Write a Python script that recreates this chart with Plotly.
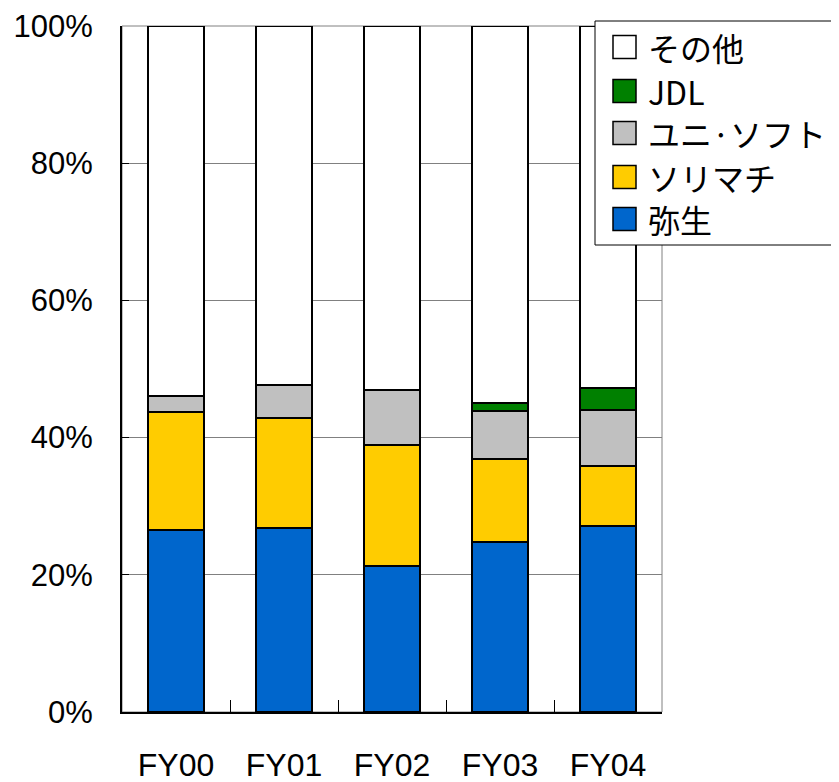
import plotly.graph_objects as go

categories = ["FY00", "FY01", "FY02", "FY03", "FY04"]
series_names = ["弥生", "ソリマチ", "ユニ·ソフト", "JDL", "その他"]
yayoi = [26.5, 26.8, 21.3, 24.8, 27.1]
sorimachi = [17.2, 16.1, 17.6, 12.1, 8.8]
unisoft = [2.4, 4.8, 8.0, 7.0, 8.1]
jdl = [0.0, 0.0, 0.0, 1.2, 3.3]
others = [53.9, 52.3, 53.1, 54.9, 52.7]
colors = ["#0066CC", "#FFCC00", "#C0C0C0", "#008000", "#FFFFFF"]
y_ticks = [0, 20, 40, 60, 80, 100]
y_tick_labels = ["0%", "20%", "40%", "60%", "80%", "100%"]

series_values = [yayoi, sorimachi, unisoft, jdl, others]

OFF = 8  # page body margin
W, H = 839 - OFF, 782 - OFF
# plot area in window pixels
L, R, T, B = 122, 662, 26, 712

fig = go.Figure()
for name, vals, col in zip(series_names, series_values, colors):
    fig.add_trace(go.Bar(
        x=categories, y=vals, name=name, width=0.51,
        marker=dict(color=col, line=dict(color="black", width=2)),
        showlegend=False,
    ))

def px_x(p):
    return (p - L) / (R - L)

def px_y(p):
    return (B - p) / (B - T)

shapes = [
    dict(type="rect", xref="paper", yref="paper", x0=0, x1=1, y0=0, y1=1,
         line=dict(color="#808080", width=1), layer="below"),
]
annotations = []
# custom legend (top to bottom: reversed series order)
shapes.append(dict(type="rect", xref="paper", yref="paper",
                   x0=px_x(595), x1=px_x(837), y0=px_y(245), y1=px_y(21),
                   line=dict(color="black", width=1), fillcolor="white", layer="above"))
centers = [47, 91, 133, 177, 219]
for i, idx in enumerate(range(len(series_names) - 1, -1, -1)):
    cy = centers[i]
    shapes.append(dict(type="rect", xref="paper", yref="paper",
                       x0=px_x(613), x1=px_x(636), y0=px_y(cy + 11.5), y1=px_y(cy - 11.5),
                       line=dict(color="black", width=1.5), fillcolor=colors[idx], layer="above"))
    annotations.append(dict(xref="paper", yref="paper", x=px_x(647), y=px_y(cy),
                            text=series_names[idx], showarrow=False, xanchor="left",
                            yanchor="middle", borderpad=0,
                            font=dict(family="Noto Sans CJK JP", size=32, color="black")))

fig.update_layout(
    width=W, height=H,
    margin=dict(l=L - OFF, r=W - (R - OFF), t=T - OFF, b=H - (B - OFF), pad=0, autoexpand=False),
    plot_bgcolor="white", paper_bgcolor="white",
    barmode="stack", bargap=0.49,
    font=dict(family="Liberation Sans, Arial", size=31, color="black"),
    shapes=shapes, annotations=annotations,
)
fig.update_xaxes(
    automargin=False,
    showline=True, linecolor="black", linewidth=2,
    ticks="inside", tickson="boundaries", ticklen=12, tickcolor="black", tickwidth=1,
    showgrid=False, ticklabelstandoff=24,
    tickfont=dict(family="Liberation Sans, Arial", size=32),
)
fig.update_yaxes(
    automargin=False,
    range=[0, 100], tickvals=y_ticks, ticktext=y_tick_labels,
    showline=True, linecolor="black", linewidth=2,
    ticks="inside", ticklen=7, tickcolor="black",
    showgrid=True, gridcolor="#808080", gridwidth=1,
    ticklabelstandoff=21, zeroline=False,
    tickfont=dict(family="Liberation Sans, Arial", size=31),
)

fig.write_html("out.html")
